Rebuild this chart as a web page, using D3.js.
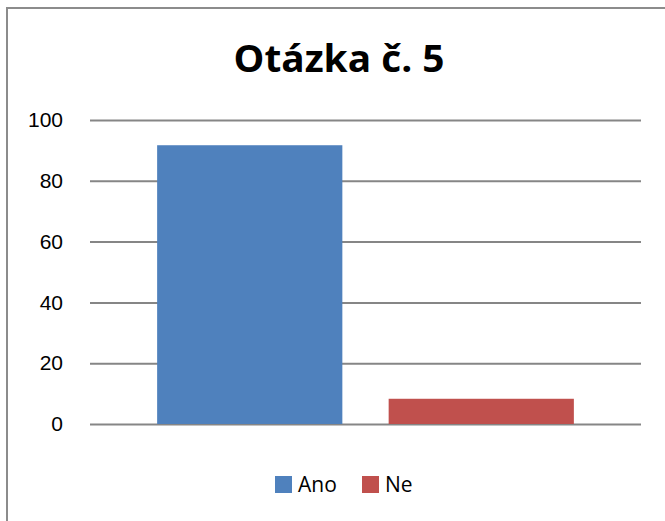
<html>
  <head>
    <meta charset="utf-8">
    <script src="https://d3js.org/d3.v7.min.js"></script>
    <style>
      body { margin: 0; background: #fff; }
      svg { font-family: "Open Sans", "Liberation Sans", sans-serif; }
      .grid line { stroke: #868686; stroke-width: 2; }
      .grid path { display: none; }
      .axis text { font-size: 21px; fill: #000; }
    </style>
  </head>
  <body>
    <div id="chart"></div>
    <script>
var title = "Otázka č. 5";
var series = ["Ano", "Ne"];
var values = [91.7, 8.3];
var colors = ["#4f81bd", "#c0504d"];
var yTicks = [0, 20, 40, 60, 80, 100];

var width = 665;
var height = 521;
var plot = {left: 90, right: 641, top: 120, bottom: 424};

var svg = d3.select("#chart").append("svg")
  .attr("width", width)
  .attr("height", height);

/* outer frame */
svg.append("rect")
  .attr("x", 7).attr("y", 8)
  .attr("width", width + 10).attr("height", height + 10)
  .attr("fill", "none")
  .attr("stroke", "#8c8c8c")
  .attr("stroke-width", 2);

/* scales */
var y = d3.scaleLinear()
  .domain([0, 100])
  .range([plot.bottom, plot.top]);

var x = d3.scaleBand()
  .domain(series)
  .range([plot.left, plot.right])
  .paddingInner(0.2)
  .paddingOuter(0.29);

/* gridlines */
svg.append("g")
  .attr("class", "grid")
  .attr("transform", `translate(${plot.left},0)`)
  .call(d3.axisLeft(y).tickValues(yTicks).tickSize(-(plot.right - plot.left)).tickFormat(""));

/* y labels */
svg.append("g")
  .attr("class", "axis")
  .attr("transform", `translate(${plot.left - 22},0)`)
  .call(d3.axisLeft(y).tickValues(yTicks).tickSize(0).tickPadding(5))
  .call(g => g.select(".domain").remove());

/* bars */
svg.append("g")
  .selectAll("rect")
  .data(series).enter()
  .append("rect")
  .attr("x", d => x(d))
  .attr("width", x.bandwidth())
  .attr("y", (d, i) => y(values[i]))
  .attr("height", (d, i) => y(0) - y(values[i]))
  .attr("fill", (d, i) => colors[i]);

/* title */
svg.append("text")
  .attr("x", 339)
  .attr("y", 72)
  .attr("text-anchor", "middle")
  .attr("font-size", "38px")
  .attr("font-weight", "bold")
  .attr("textLength", 211)
  .attr("lengthAdjust", "spacingAndGlyphs")
  .text(title);

/* legend */
var legendX = [275, 362];
var legend = svg.append("g").selectAll("g")
  .data(series).enter()
  .append("g")
  .attr("transform", (d, i) => `translate(${legendX[i]}, 476)`);

legend.append("rect")
  .attr("width", 17).attr("height", 17)
  .attr("fill", (d, i) => colors[i]);

legend.append("text")
  .attr("x", 23)
  .attr("y", 16)
  .attr("font-size", "21px")
  .text(d => d);
    </script>
  </body>
</html>
